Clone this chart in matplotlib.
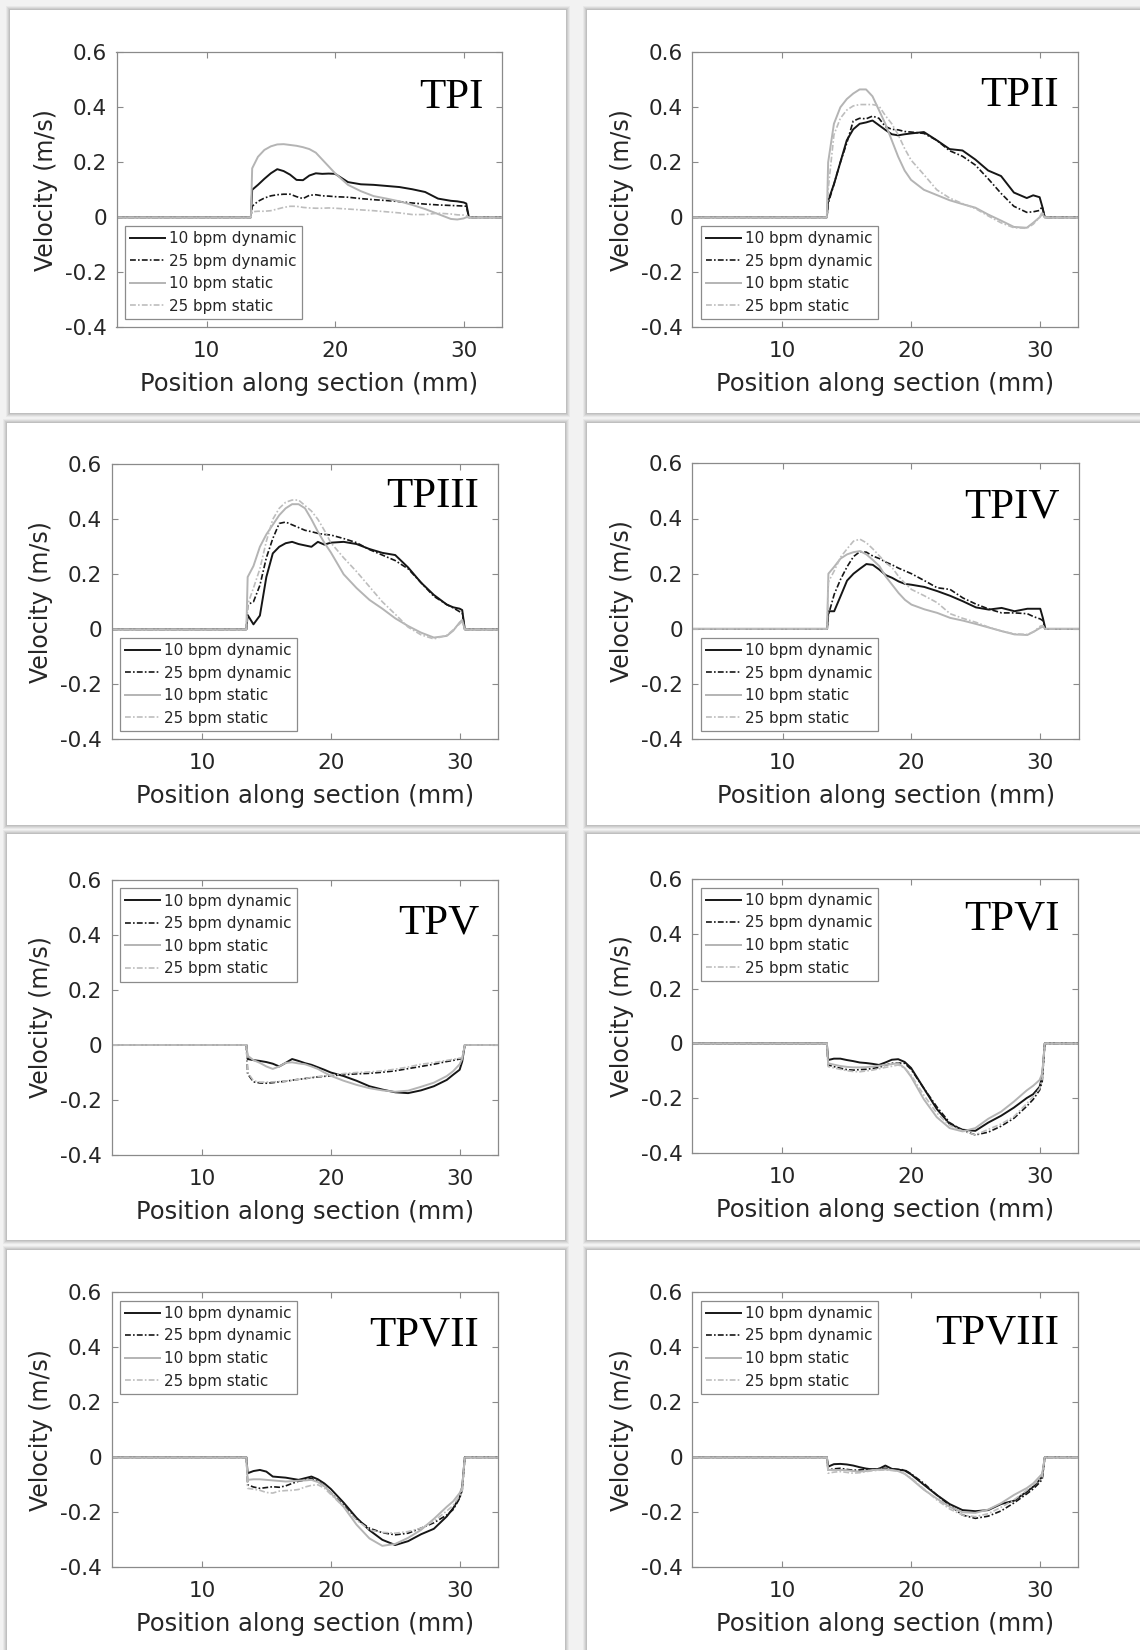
import numpy as np
import matplotlib.pyplot as plt
from matplotlib.patches import Rectangle
from matplotlib.ticker import FuncFormatter

pos = [13.55, 14, 14.5, 15, 15.5, 16, 16.5, 17, 17.5, 18, 18.5, 19, 19.5, 20,
       21, 22, 23, 24, 25, 26, 27, 28, 29, 29.5, 30, 30.2]
sec_start, sec_end = 13.45, 30.4   # velocity is zero outside the section
x_lim = (3, 33)
y_lim = (-0.4, 0.6)
x_ticks = [10, 20, 30]
y_ticks = [-0.4, -0.2, 0, 0.2, 0.4, 0.6]

series_labels = ['10 bpm dynamic', '25 bpm dynamic', '10 bpm static', '25 bpm static']
panel_names = ['TPI', 'TPII', 'TPIII', 'TPIV', 'TPV', 'TPVI', 'TPVII', 'TPVIII']

# velocity (m/s)
tp1_dyn10 = [0.100, 0.118, 0.140, 0.160, 0.175, 0.168, 0.155, 0.136, 0.135, 0.152, 0.160, 0.158, 0.159, 0.158,
             0.128, 0.120, 0.118, 0.114, 0.110, 0.102, 0.092, 0.068, 0.060, 0.058, 0.054, 0.050]
tp1_dyn25 = [0.040, 0.058, 0.070, 0.078, 0.082, 0.084, 0.084, 0.075, 0.068, 0.080, 0.082, 0.078, 0.077, 0.075,
             0.073, 0.068, 0.064, 0.061, 0.057, 0.052, 0.048, 0.045, 0.043, 0.042, 0.041, 0.040]
tp1_sta10 = [0.178, 0.220, 0.245, 0.258, 0.265, 0.266, 0.263, 0.260, 0.255, 0.248, 0.235, 0.210, 0.185, 0.160,
             0.118, 0.095, 0.077, 0.068, 0.058, 0.045, 0.030, 0.012, -0.006, -0.008, -0.004, 0.000]
tp1_sta25 = [0.020, 0.022, 0.022, 0.024, 0.030, 0.036, 0.040, 0.040, 0.036, 0.034, 0.033, 0.033, 0.034, 0.033,
             0.030, 0.027, 0.024, 0.020, 0.016, 0.010, 0.010, 0.015, 0.012, 0.009, 0.008, 0.006]

tp2_dyn10 = [0.060, 0.120, 0.200, 0.280, 0.320, 0.340, 0.345, 0.352, 0.335, 0.318, 0.302, 0.298, 0.302, 0.305,
             0.310, 0.280, 0.248, 0.243, 0.210, 0.170, 0.150, 0.090, 0.070, 0.080, 0.073, 0.040]
tp2_dyn25 = [0.050, 0.120, 0.200, 0.270, 0.350, 0.360, 0.358, 0.368, 0.360, 0.330, 0.320, 0.318, 0.312, 0.310,
             0.305, 0.280, 0.242, 0.222, 0.190, 0.140, 0.087, 0.040, 0.018, 0.020, 0.025, 0.039]
tp2_sta10 = [0.200, 0.340, 0.400, 0.430, 0.450, 0.465, 0.465, 0.440, 0.390, 0.340, 0.280, 0.220, 0.170, 0.136,
             0.100, 0.081, 0.062, 0.048, 0.035, 0.010, -0.012, -0.035, -0.038, -0.020, 0.000, 0.012]
tp2_sta25 = [0.100, 0.300, 0.360, 0.390, 0.405, 0.410, 0.410, 0.410, 0.405, 0.370, 0.340, 0.300, 0.250, 0.208,
             0.155, 0.100, 0.070, 0.050, 0.032, 0.005, -0.020, -0.038, -0.040, -0.025, 0.000, 0.020]

tp3_dyn10 = [0.052, 0.018, 0.050, 0.190, 0.276, 0.300, 0.313, 0.318, 0.310, 0.305, 0.300, 0.318, 0.308, 0.315,
             0.318, 0.310, 0.292, 0.278, 0.270, 0.225, 0.170, 0.125, 0.090, 0.080, 0.075, 0.070]
tp3_dyn25 = [0.090, 0.100, 0.160, 0.260, 0.330, 0.385, 0.390, 0.380, 0.370, 0.360, 0.355, 0.349, 0.345, 0.343,
             0.330, 0.315, 0.290, 0.270, 0.250, 0.220, 0.170, 0.120, 0.090, 0.078, 0.064, 0.060]
tp3_sta10 = [0.190, 0.230, 0.300, 0.345, 0.380, 0.415, 0.440, 0.455, 0.455, 0.440, 0.400, 0.355, 0.315, 0.280,
             0.200, 0.150, 0.107, 0.075, 0.040, 0.012, -0.012, -0.030, -0.024, -0.005, 0.025, 0.034]
tp3_sta25 = [0.090, 0.150, 0.220, 0.320, 0.400, 0.440, 0.462, 0.470, 0.470, 0.450, 0.430, 0.400, 0.360, 0.315,
             0.260, 0.210, 0.155, 0.100, 0.055, 0.008, -0.020, -0.035, -0.022, -0.002, 0.020, 0.028]

tp4_dyn10 = [0.064, 0.064, 0.119, 0.175, 0.200, 0.218, 0.235, 0.232, 0.215, 0.195, 0.185, 0.172, 0.163, 0.160,
             0.152, 0.137, 0.120, 0.100, 0.078, 0.070, 0.076, 0.064, 0.073, 0.073, 0.073, 0.040]
tp4_dyn25 = [0.050, 0.125, 0.180, 0.225, 0.262, 0.280, 0.278, 0.264, 0.255, 0.242, 0.232, 0.220, 0.210, 0.200,
             0.175, 0.149, 0.143, 0.112, 0.090, 0.072, 0.058, 0.058, 0.055, 0.044, 0.036, 0.030]
tp4_sta10 = [0.200, 0.225, 0.255, 0.270, 0.278, 0.282, 0.270, 0.250, 0.228, 0.190, 0.160, 0.130, 0.105, 0.088,
             0.071, 0.058, 0.040, 0.030, 0.018, 0.005, -0.008, -0.020, -0.022, -0.010, 0.004, 0.008]
tp4_sta25 = [0.170, 0.210, 0.260, 0.290, 0.318, 0.325, 0.312, 0.290, 0.265, 0.240, 0.222, 0.190, 0.165, 0.143,
             0.120, 0.095, 0.055, 0.038, 0.024, 0.006, -0.008, -0.018, -0.020, -0.010, 0.010, 0.012]

tp5_dyn10 = [-0.051, -0.055, -0.058, -0.062, -0.068, -0.078, -0.065, -0.051, -0.058, -0.066, -0.072, -0.081, -0.090, -0.100,
             -0.113, -0.130, -0.150, -0.162, -0.172, -0.175, -0.165, -0.150, -0.127, -0.108, -0.090, -0.060]
tp5_dyn25 = [-0.105, -0.134, -0.138, -0.139, -0.137, -0.134, -0.132, -0.128, -0.125, -0.122, -0.119, -0.116, -0.114, -0.112,
             -0.108, -0.105, -0.103, -0.099, -0.094, -0.086, -0.078, -0.070, -0.060, -0.056, -0.051, -0.050]
tp5_sta10 = [-0.039, -0.055, -0.065, -0.078, -0.087, -0.078, -0.065, -0.063, -0.067, -0.070, -0.078, -0.087, -0.100, -0.112,
             -0.130, -0.145, -0.157, -0.165, -0.170, -0.166, -0.152, -0.137, -0.113, -0.095, -0.070, -0.050]
tp5_sta25 = [-0.100, -0.130, -0.135, -0.135, -0.134, -0.133, -0.131, -0.129, -0.125, -0.122, -0.118, -0.115, -0.113, -0.110,
             -0.104, -0.100, -0.098, -0.094, -0.088, -0.080, -0.070, -0.064, -0.056, -0.052, -0.048, -0.046]

tp6_dyn10 = [-0.061, -0.056, -0.056, -0.061, -0.065, -0.070, -0.072, -0.075, -0.079, -0.070, -0.060, -0.058, -0.068, -0.090,
             -0.165, -0.240, -0.295, -0.316, -0.320, -0.290, -0.265, -0.235, -0.200, -0.186, -0.159, -0.120]
tp6_dyn25 = [-0.079, -0.085, -0.091, -0.096, -0.098, -0.096, -0.095, -0.092, -0.088, -0.080, -0.073, -0.072, -0.073, -0.095,
             -0.165, -0.232, -0.290, -0.318, -0.335, -0.325, -0.303, -0.274, -0.230, -0.205, -0.171, -0.140]
tp6_sta10 = [-0.073, -0.078, -0.083, -0.086, -0.088, -0.088, -0.087, -0.085, -0.082, -0.079, -0.076, -0.073, -0.090, -0.122,
             -0.205, -0.270, -0.310, -0.322, -0.310, -0.276, -0.250, -0.213, -0.172, -0.155, -0.134, -0.110]
tp6_sta25 = [-0.085, -0.090, -0.095, -0.100, -0.103, -0.104, -0.101, -0.098, -0.093, -0.088, -0.084, -0.079, -0.090, -0.116,
             -0.190, -0.255, -0.300, -0.320, -0.335, -0.315, -0.295, -0.268, -0.220, -0.195, -0.165, -0.130]

tp7_dyn10 = [-0.058, -0.050, -0.046, -0.052, -0.070, -0.072, -0.074, -0.078, -0.082, -0.076, -0.070, -0.080, -0.095, -0.115,
             -0.165, -0.220, -0.265, -0.300, -0.319, -0.305, -0.280, -0.260, -0.215, -0.185, -0.145, -0.107]
tp7_dyn25 = [-0.100, -0.108, -0.113, -0.110, -0.107, -0.109, -0.104, -0.095, -0.087, -0.083, -0.077, -0.088, -0.105, -0.130,
             -0.175, -0.225, -0.258, -0.274, -0.282, -0.276, -0.258, -0.238, -0.210, -0.190, -0.149, -0.120]
tp7_sta10 = [-0.082, -0.080, -0.080, -0.082, -0.084, -0.086, -0.088, -0.087, -0.085, -0.084, -0.082, -0.090, -0.105, -0.130,
             -0.180, -0.245, -0.295, -0.322, -0.315, -0.293, -0.264, -0.224, -0.180, -0.160, -0.130, -0.110]
tp7_sta25 = [-0.113, -0.116, -0.120, -0.128, -0.130, -0.123, -0.121, -0.120, -0.117, -0.108, -0.102, -0.100, -0.112, -0.135,
             -0.180, -0.228, -0.264, -0.273, -0.276, -0.270, -0.258, -0.232, -0.195, -0.175, -0.140, -0.120]

tp8_dyn10 = [-0.034, -0.025, -0.024, -0.026, -0.030, -0.036, -0.041, -0.044, -0.042, -0.030, -0.042, -0.045, -0.048, -0.062,
             -0.100, -0.137, -0.170, -0.192, -0.196, -0.192, -0.170, -0.158, -0.125, -0.107, -0.082, -0.070]
tp8_dyn25 = [-0.046, -0.042, -0.040, -0.044, -0.047, -0.046, -0.044, -0.043, -0.041, -0.040, -0.042, -0.044, -0.046, -0.060,
             -0.095, -0.137, -0.175, -0.210, -0.222, -0.214, -0.195, -0.166, -0.133, -0.115, -0.092, -0.080]
tp8_sta10 = [-0.046, -0.046, -0.046, -0.047, -0.050, -0.052, -0.050, -0.046, -0.045, -0.044, -0.046, -0.050, -0.060, -0.078,
             -0.118, -0.150, -0.180, -0.200, -0.202, -0.190, -0.167, -0.137, -0.112, -0.095, -0.070, -0.060]
tp8_sta25 = [-0.058, -0.054, -0.052, -0.055, -0.058, -0.056, -0.052, -0.049, -0.047, -0.046, -0.048, -0.050, -0.060, -0.075,
             -0.115, -0.155, -0.188, -0.210, -0.216, -0.205, -0.182, -0.155, -0.120, -0.100, -0.082, -0.070]

panel_data = [
    [tp1_dyn10, tp1_dyn25, tp1_sta10, tp1_sta25],
    [tp2_dyn10, tp2_dyn25, tp2_sta10, tp2_sta25],
    [tp3_dyn10, tp3_dyn25, tp3_sta10, tp3_sta25],
    [tp4_dyn10, tp4_dyn25, tp4_sta10, tp4_sta25],
    [tp5_dyn10, tp5_dyn25, tp5_sta10, tp5_sta25],
    [tp6_dyn10, tp6_dyn25, tp6_sta10, tp6_sta25],
    [tp7_dyn10, tp7_dyn25, tp7_sta10, tp7_sta25],
    [tp8_dyn10, tp8_dyn25, tp8_sta10, tp8_sta25],
]

# ---------------- layout (pixels of the 1140x1650 picture) ----------------
W, H = 1140, 1650
axes_px = [(116.5, 52.3, 502.3, 327.3), (692.5, 52.3, 1078.2, 327.3),
           (111.7, 464.3, 498.3, 739.3), (692.5, 463.3, 1078.9, 739.3),
           (111.7, 880.0, 498.3, 1155.0), (692.5, 879.3, 1078.2, 1152.7),
           (111.7, 1292.3, 498.3, 1567.3), (692.5, 1292.3, 1078.2, 1567.3)]
cards_px = [(10, 10, 566, 413), (587, 10, 1160, 413),
            (7, 423, 565, 825), (587, 423, 1160, 825),
            (7, 834, 565, 1240), (587, 834, 1160, 1240),
            (7, 1250, 565, 1670), (587, 1250, 1160, 1670)]
name_baseline_px = [108, 106, 507, 518, 933, 930, 1345, 1343]
legend_loc = ['lower left'] * 4 + ['upper left'] * 4

styles = [dict(color='#161616', lw=1.4, ls='-'),
          dict(color='#161616', lw=1.2, ls=(0, (3.5, 1.3, 1, 1.3))),
          dict(color='#b4b4b4', lw=1.4, ls='-'),
          dict(color='#bdbdbd', lw=1.2, ls=(0, (3.5, 1.3, 1, 1.3)))]

sans = 'DejaVu Sans'
text_col = '#262626'
frame_col = '#8a8a8a'

fig = plt.figure(figsize=(W / 100, H / 100), dpi=100)
fig.patch.set_facecolor('#f2f2f2')

# white cards with a soft grey border, like the screenshot tiles
for x0, y0, x1, y1 in cards_px:
    for k, a in zip([4, 3, 2, 1], [0.10, 0.14, 0.18, 0.22]):
        fig.add_artist(Rectangle(((x0 - k) / W, 1 - (y1 + k) / H), (x1 - x0 + 2 * k) / W, (y1 - y0 + 2 * k) / H,
                                 transform=fig.transFigure, fc='#909090', ec='none', alpha=a, zorder=0))
    fig.add_artist(Rectangle((x0 / W, 1 - y1 / H), (x1 - x0) / W, (y1 - y0) / H,
                             transform=fig.transFigure, fc='white', ec='none', zorder=0))

xs = [x_lim[0], sec_start] + pos + [sec_end, x_lim[1]]

for i, (l, t, r, b) in enumerate(axes_px):
    ax = fig.add_axes([l / W, 1 - b / H, (r - l) / W, (b - t) / H])
    for vals, lab, st in zip(panel_data[i], series_labels, styles):
        ys = [0, 0] + vals + [0, 0]
        ax.plot(xs, ys, label=lab, **st)

    ax.set_xlim(*x_lim)
    ax.set_ylim(*y_lim)
    ax.set_xticks(x_ticks)
    ax.set_yticks(y_ticks)
    ax.yaxis.set_major_formatter(FuncFormatter(lambda v, p: '%g' % round(v, 2)))
    ax.tick_params(direction='in', top=True, right=True, length=4, width=0.8, color=frame_col,
                   labelsize=15.5, labelcolor=text_col)
    ax.tick_params(axis='x', pad=10)
    ax.tick_params(axis='y', pad=7)
    for lbl in ax.get_xticklabels() + ax.get_yticklabels():
        lbl.set_family(sans)
    for sp in ax.spines.values():
        sp.set_color(frame_col)
        sp.set_linewidth(0.9)
    ax.set_xlabel('Position along section (mm)', fontsize=17.5, family=sans, color=text_col, labelpad=8)
    ax.set_ylabel('Velocity (m/s)', fontsize=17, family=sans, color=text_col, labelpad=5)

    leg = ax.legend(loc=legend_loc[i], prop={'family': sans, 'size': 10.9}, frameon=True, fancybox=False,
                    handlelength=2.3, handletextpad=0.25, labelspacing=0.5, borderpad=0.35,
                    borderaxespad=0.55)
    leg.get_frame().set_edgecolor('#6e6e6e')
    leg.get_frame().set_linewidth(0.9)
    for txt in leg.get_texts():
        txt.set_color(text_col)

    ax.text(1 - 19 / (r - l), (b - name_baseline_px[i]) / (b - t), panel_names[i], transform=ax.transAxes,
            ha='right', va='baseline', fontsize=31, family='Liberation Serif', color='black')

fig.savefig('out.png', dpi=100, facecolor=fig.get_facecolor())
